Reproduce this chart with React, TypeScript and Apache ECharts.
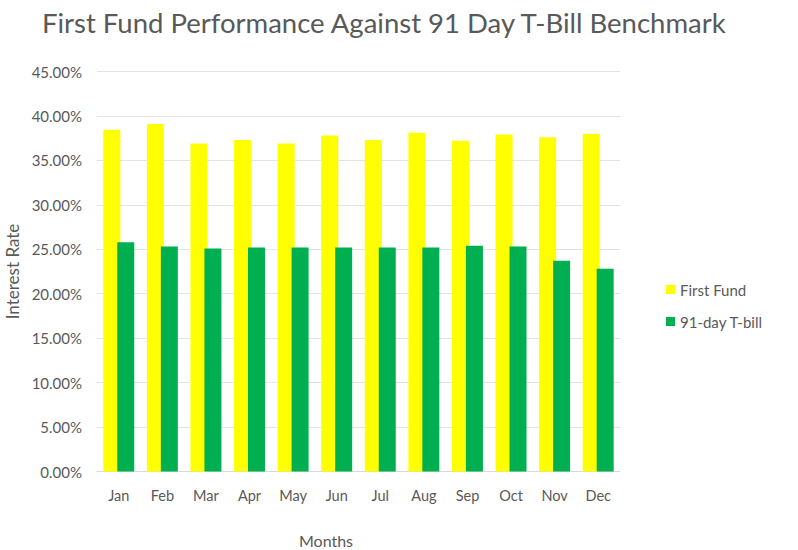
import React, { useEffect, useRef } from "react";
import * as echarts from "echarts";

const months = ["Jan", "Feb", "Mar", "Apr", "May", "Jun", "Jul", "Aug", "Sep", "Oct", "Nov", "Dec"];
const firstFund = [0.3845, 0.391, 0.369, 0.373, 0.369, 0.378, 0.373, 0.381, 0.372, 0.379, 0.376, 0.38];
const tBill = [0.258, 0.253, 0.251, 0.252, 0.252, 0.252, 0.252, 0.252, 0.254, 0.253, 0.237, 0.228];
const yTicks = { min: 0, max: 0.45, interval: 0.05 };

const grey = "#595959";
const font = "Lato";

export default function App() {
  const ref = useRef<HTMLDivElement>(null);
  useEffect(() => {
    if (!ref.current) return;
    const chart = echarts.init(ref.current, undefined, { renderer: "svg" });
    chart.setOption({
      animation: false,
      backgroundColor: "#ffffff",
      title: {
        text: "First Fund Performance Against 91 Day T-Bill Benchmark",
        left: 37,
        top: 3,
        textStyle: { color: grey, fontFamily: font, fontSize: 27.5, fontWeight: "normal" },
      },
      legend: {
        orient: "vertical",
        left: 661,
        top: 277,
        itemWidth: 9,
        itemHeight: 9,
        itemGap: 17,
        icon: "rect",
        textStyle: { color: grey, fontFamily: font, fontSize: 15 },
        data: ["First Fund", "91-day T-bill"],
      },
      grid: {
        left: 97,
        right: 178,
        top: 71.5,
        bottom: 78.5,
        containLabel: false,
        outerBoundsMode: "none",
      },
      xAxis: {
        type: "category",
        data: months,
        axisLine: { lineStyle: { color: "#d9d9d9" } },
        axisTick: { show: false },
        axisLabel: { color: grey, fontFamily: font, fontSize: 14.5, margin: 16 },
      },
      yAxis: {
        type: "value",
        min: yTicks.min,
        max: yTicks.max,
        interval: yTicks.interval,
        name: "Interest Rate",
        nameLocation: "middle",
        nameGap: 69,
        nameTextStyle: { color: grey, fontFamily: font, fontSize: 17 },
        axisLine: { show: false },
        axisTick: { show: false },
        splitLine: { lineStyle: { color: "#e3e3e3" } },
        axisLabel: {
          color: grey,
          fontFamily: font,
          fontSize: 15,
          margin: 15,
          formatter: (v: number) => (v * 100).toFixed(2) + "%",
        },
      },
      graphic: [
        {
          type: "text",
          x: 326,
          y: 540,
          style: {
            text: "Months",
            fill: grey,
            font: `16px ${font}`,
            textAlign: "center",
            textVerticalAlign: "middle",
          },
        },
      ],
      series: [
        {
          name: "First Fund",
          type: "bar",
          data: firstFund,
          barWidth: 17,
          barGap: "-18%",
          itemStyle: { color: "#FFFF00" },
        },
        {
          name: "91-day T-bill",
          type: "bar",
          data: tBill,
          barWidth: 17,
          itemStyle: { color: "#00B050" },
        },
      ],
    });
    return () => chart.dispose();
  }, []);
  return (
    <div
      ref={ref}
      style={{ position: "fixed", left: 0, top: 0, width: 798, height: 550, background: "#fff" }}
    />
  );
}
